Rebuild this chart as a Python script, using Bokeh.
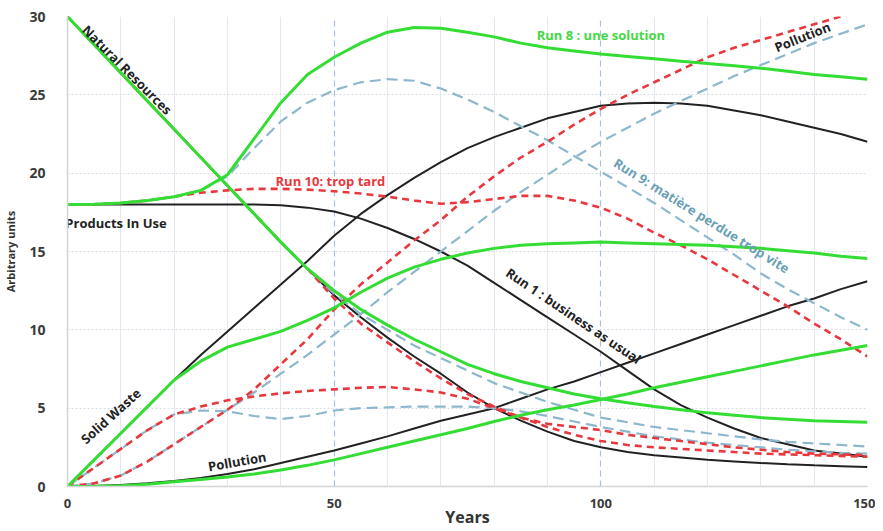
import math
from bokeh.plotting import figure
from bokeh.models import Range1d, FixedTicker, Grid
from bokeh.core.properties import value
from bokeh.embed import file_html
from bokeh.resources import INLINE

YEARS = list(range(0, 151, 5))

# Run 1 : business as usual (black)
R1_NR = [30, 28.2, 26.4, 24.6, 22.8, 21.0, 19.2, 17.4, 15.6, 13.9, 12.2, 10.8, 9.5, 8.3, 7.2, 6.0, 5.0, 4.2, 3.5, 2.9,
         2.5, 2.2, 2.0, 1.85, 1.7, 1.6, 1.5, 1.42, 1.35, 1.3, 1.25]
R1_PIU = [18, 18, 18, 18, 18, 18, 18, 18, 17.95, 17.8, 17.55, 17.1, 16.5, 15.8, 15.0, 14.1, 13.0, 11.9, 10.8, 9.7,
          8.6, 7.4, 6.2, 5.2, 4.4, 3.7, 3.1, 2.7, 2.3, 2.1, 1.9]
R1_SW = [0, 1.7, 3.4, 5.1, 6.8, 8.4, 9.9, 11.4, 12.9, 14.4, 16.0, 17.4, 18.6, 19.7, 20.7, 21.6, 22.3, 22.9, 23.5, 23.9,
         24.3, 24.45, 24.5, 24.45, 24.3, 24.0, 23.7, 23.3, 22.9, 22.5, 22.0]
R1_POL = [0, 0.03, 0.1, 0.2, 0.35, 0.55, 0.8, 1.1, 1.5, 1.9, 2.3, 2.75, 3.2, 3.7, 4.2, 4.6, 5.0, 5.6, 6.2, 6.7,
          7.3, 7.9, 8.5, 9.1, 9.7, 10.3, 10.9, 11.5, 12.0, 12.6, 13.1]

# Run 8 : une solution (green)
R8_NR = [30, 28.2, 26.4, 24.6, 22.8, 21.0, 19.2, 17.4, 15.6, 13.9, 12.5, 11.3, 10.3, 9.4, 8.6, 7.8, 7.2, 6.7, 6.3, 5.9,
         5.6, 5.35, 5.1, 4.9, 4.7, 4.55, 4.4, 4.3, 4.2, 4.15, 4.1]
R8_PIU = [18, 18.02, 18.1, 18.25, 18.5, 18.9, 19.9, 22.2, 24.5, 26.3, 27.4, 28.3, 29.0, 29.3, 29.25, 29.0, 28.7, 28.3,
          28.0, 27.8, 27.6, 27.45, 27.3, 27.15, 27.0, 26.85, 26.7, 26.5, 26.3, 26.15, 26.0]
R8_SW = [0, 1.7, 3.4, 5.1, 6.8, 8.0, 8.9, 9.4, 9.9, 10.6, 11.4, 12.4, 13.3, 14.0, 14.5, 14.9, 15.2, 15.4, 15.5, 15.55,
         15.6, 15.55, 15.5, 15.45, 15.4, 15.3, 15.2, 15.05, 14.9, 14.7, 14.55]
R8_POL = [0, 0.02, 0.05, 0.15, 0.3, 0.45, 0.6, 0.8, 1.05, 1.35, 1.7, 2.1, 2.5, 2.9, 3.3, 3.7, 4.15, 4.55, 4.9, 5.2,
          5.55, 5.9, 6.3, 6.65, 7.0, 7.35, 7.7, 8.05, 8.4, 8.7, 9.0]

# Run 10 : trop tard (red dashed)
R10_NR = [30, 28.2, 26.4, 24.6, 22.8, 21.0, 19.2, 17.4, 15.6, 13.9, 12.0, 10.4, 9.2, 8.0, 6.9, 5.9, 5.1, 4.4, 4.0, 3.8,
          3.6, 3.3, 3.1, 2.9, 2.7, 2.5, 2.35, 2.2, 2.1, 2.05, 2.0]
R10_PIU = [18, 18.02, 18.1, 18.25, 18.5, 18.75, 18.9, 19.0, 19.0, 18.95, 18.85, 18.7, 18.5, 18.25, 18.05, 18.15, 18.35,
           18.55, 18.55, 18.25, 17.8, 17.1, 16.2, 15.4, 14.5, 13.5, 12.5, 11.5, 10.4, 9.4, 8.3]
R10_SW = [0, 1.2, 2.4, 3.6, 4.6, 5.1, 5.5, 5.75, 5.95, 6.1, 6.2, 6.3, 6.35, 6.2, 6.0, 5.6, 5.0, 4.4, 3.8, 3.3,
          2.9, 2.65, 2.5, 2.4, 2.3, 2.2, 2.1, 2.05, 2.0, 1.95, 1.9]
R10_POL = [0, 0.2, 0.7, 1.6, 2.7, 3.8, 4.9, 6.2, 7.8, 9.4, 11.3, 12.9, 14.3, 15.7, 17.0, 18.5, 19.8, 21.0, 22.0, 23.1,
           24.1, 25.0, 25.8, 26.6, 27.4, 28.0, 28.5, 29.0, 29.5, 30.0, 30.5]

# Run 9 : matière perdue trop vite (blue dashed)
R9_NR = [30, 28.2, 26.4, 24.6, 22.8, 21.0, 19.2, 17.4, 15.6, 13.9, 12.3, 11.0, 10.0, 9.0, 8.2, 7.4, 6.6, 6.0, 5.4, 4.9,
         4.4, 4.1, 3.8, 3.6, 3.4, 3.2, 3.0, 2.85, 2.75, 2.65, 2.55]
R9_PIU = [18, 18.02, 18.1, 18.25, 18.5, 18.9, 19.8, 21.6, 23.3, 24.5, 25.3, 25.8, 26.0, 25.9, 25.4, 24.7, 23.9, 23.0,
          22.1, 21.1, 20.1, 19.1, 18.1, 17.0, 15.9, 14.8, 13.6, 12.6, 11.7, 10.8, 10.0]
R9_SW = [0, 1.2, 2.4, 3.6, 4.6, 4.85, 4.8, 4.5, 4.3, 4.5, 4.85, 5.0, 5.05, 5.1, 5.1, 5.1, 5.0, 4.8, 4.5, 4.15,
         3.8, 3.5, 3.2, 3.0, 2.8, 2.65, 2.5, 2.35, 2.25, 2.15, 2.1]
R9_POL = [0, 0.2, 0.7, 1.6, 2.7, 3.8, 4.9, 6.0, 7.2, 8.4, 9.7, 11.0, 12.4, 13.7, 15.0, 16.3, 17.6, 18.8, 19.9, 21.0,
          22.0, 22.9, 23.8, 24.6, 25.4, 26.2, 26.9, 27.6, 28.3, 28.9, 29.5]

X_TICKS = [0, 50, 100, 150]
Y_TICKS = [0, 5, 10, 15, 20, 25, 30]

BLACK = "#222222"
GREEN = "#33dd33"
RED = "#e8383d"
BLUE = "#8db7cc"
FONT_NAME = "Open Sans"
FONT = value(FONT_NAME)

p = figure(width=875, height=530, x_range=Range1d(0, 150), y_range=Range1d(0, 30),
           output_backend="svg", toolbar_location=None,
           min_border_left=66, min_border_right=8, min_border_top=16, min_border_bottom=40)
p.outline_line_color = None
p.background_fill_color = "white"

p.xaxis.ticker = FixedTicker(ticks=X_TICKS)
p.yaxis.ticker = FixedTicker(ticks=Y_TICKS)
for ax in (p.xaxis[0], p.yaxis[0]):
    ax.major_tick_line_color = None
    ax.minor_tick_line_color = None
    ax.axis_line_color = "#d4d4d4"
    ax.axis_line_width = 1.5
    ax.major_label_text_font = FONT_NAME
    ax.major_label_text_font_style = "bold"
    ax.major_label_text_color = "#3a3a3a"
    ax.axis_label_text_font = FONT_NAME
    ax.axis_label_text_font_style = "bold"
    ax.axis_label_text_color = "#333333"
p.yaxis.major_label_text_font_size = "14px"
p.xaxis.major_label_text_font_size = "13px"
p.xaxis.major_label_standoff = 6
p.xaxis.axis_label = "Years"
p.xaxis.axis_label_text_font_size = "16px"
p.xaxis.axis_label_standoff = -5
p.yaxis.major_label_standoff = 16
p.yaxis.axis_label = "Arbitrary units"
p.yaxis.axis_label_text_font_size = "11px"
p.yaxis.axis_label_standoff = 8

p.xgrid.ticker = FixedTicker(ticks=[10, 20, 30, 40, 60, 70, 80, 90, 110, 120, 130, 140])
p.xgrid.grid_line_color = "#e4e8ee"
p.ygrid.ticker = FixedTicker(ticks=[5, 10, 15, 20, 25, 30])
p.ygrid.grid_line_color = "#d6dde6"
p.ygrid.grid_line_dash = "2 2"
p.add_layout(Grid(dimension=0, ticker=FixedTicker(ticks=[50, 100, 150]),
                  grid_line_color="#a9c2dc", grid_line_dash="6 4", grid_line_width=1.2))

for ys in (R1_NR, R1_PIU, R1_SW, R1_POL):
    p.line(YEARS, ys, line_color=BLACK, line_width=2)
for ys in (R9_NR, R9_PIU, R9_SW, R9_POL):
    p.line(YEARS, ys, line_color=BLUE, line_width=2.2, line_dash="11 6")
for ys in (R10_NR, R10_PIU, R10_SW, R10_POL):
    p.line(YEARS, ys, line_color=RED, line_width=2.6, line_dash="7 5")
for ys in (R8_NR, R8_PIU, R8_SW, R8_POL):
    p.line(YEARS, ys, line_color=GREEN, line_width=3.0)

d = math.pi / 180
LABELS = [
    ("Natural Resources", 11.2, 26.6, -45, BLACK, "13px", "center"),
    ("Products In Use", -0.4, 16.8, 0, BLACK, "13px", "left"),
    ("Solid Waste", 8.1, 4.5, 42, BLACK, "13px", "center"),
    ("Pollution", 31.8, 1.6, 10, BLACK, "13px", "center"),
    ("Pollution", 137.8, 28.7, 22, BLACK, "13px", "center"),
    ("Run 10: trop tard", 49.3, 19.5, 0, RED, "13px", "center"),
    ("Run 8 : une solution", 100, 28.8, 0, "#44d844", "13px", "center"),
    ("Run 9: matière perdue trop vite", 118.9, 17.3, -32, "#6a9fb5", "13px", "center"),
    ("Run 1 : business as usual", 94.9, 10.9, -34, BLACK, "13px", "center"),
]
for t, lx, ly, ang, col, size, align in LABELS:
    p.text(x=[lx], y=[ly], text=[t], angle=ang * d, text_color=col, text_font=FONT,
           text_font_style="bold", text_font_size=size, text_align=align, text_baseline="middle")

open("out.html", "w").write(file_html(p, INLINE))
